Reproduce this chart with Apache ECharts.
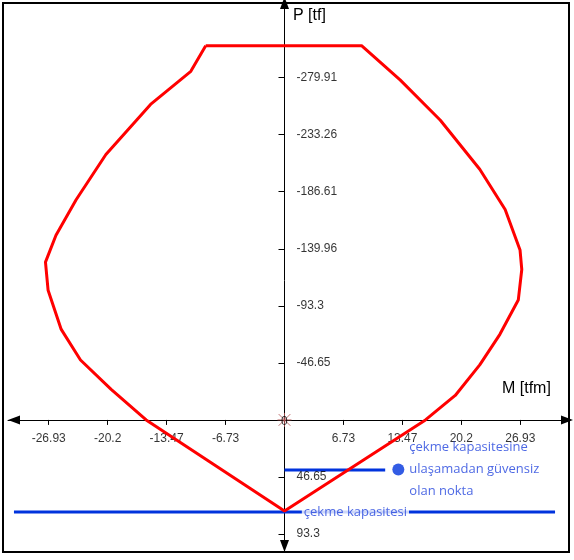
<!DOCTYPE html>
<html>
<head>
<meta charset="utf-8">
<script src="https://cdn.jsdelivr.net/npm/echarts@6/dist/echarts.min.js"></script>
<style>html,body{margin:0;padding:0;background:#fff}#c{width:574px;height:560px}</style>
</head>
<body>
<div id="c"></div>
<script>
// interaction curve (M [tfm], P [tf])
var curveM = [-9.0, -10.7, -15.3, -20.4, -23.8, -26.1, -27.3, -27.0, -25.5, -23.3, -19.8, -15.8, 0,
              16.1, 19.5, 22.3, 24.6, 26.7, 27.1, 26.9, 25.2, 22.3, 17.8, 13.2, 8.8, -9.0];
var curveP = [-306, -285, -258, -217, -180, -151, -129, -106, -74, -49, -25, 0, 74.5,
              0, -20, -45, -70, -98, -123, -139, -172, -205, -245, -278, -306, -306];
var xTicks = [-26.93, -20.2, -13.47, -6.73, 6.73, 13.47, 20.2, 26.93];
var yTicks = [-279.91, -233.26, -186.61, -139.96, -93.3, -46.65, 46.65, 93.3];
var tensionP = 75.3;
var pointM = 13.0, pointP = 40.5;
var shortLine = [[0, 41], [11.5, 41]];

var curve = curveM.map(function (m, i) { return [m, curveP[i]]; });
var chart = echarts.init(document.getElementById('c'));
var tickFont = {fontFamily: 'Liberation Sans', fontSize: 12, color: '#000'};
chart.setOption({
  animation: false,
  grid: {left: 8, right: 13, top: 9, bottom: 8, outerBoundsMode: 'none', containLabel: false},
  xAxis: {
    type: 'value', min: -31.58, max: 31.58,
    splitLine: {show: false},
    axisLine: {onZero: true, lineStyle: {color: '#000'}, symbol: ['triangle', 'triangle'], symbolSize: [9, 12], symbolOffset: [6, 6]},
    axisTick: {customValues: xTicks, length: 5, lineStyle: {color: '#000'}},
    axisLabel: {show: false}
  },
  yAxis: {
    type: 'value', min: -336, max: 108, inverse: true,
    splitLine: {show: false},
    axisLine: {onZero: true, lineStyle: {color: '#000'}, symbol: ['triangle', 'triangle'], symbolSize: [9, 12], symbolOffset: [6, 6]},
    axisTick: {customValues: yTicks, length: 6, lineStyle: {color: '#000'}},
    axisLabel: {show: false}
  },
  series: [
    {type: 'line', data: curve, symbol: 'none', lineStyle: {color: '#f00', width: 3}, z: 3},
    {type: 'line', data: [[-30.9, tensionP], [30.9, tensionP]], symbol: 'none', lineStyle: {color: '#0033dd', width: 3}, z: 2},
    {type: 'line', data: shortLine, symbol: 'none', lineStyle: {color: '#0033dd', width: 3}, z: 2},
    // tick labels placed at the axis crossing
    {type: 'scatter', data: xTicks.map(function (v) { return [v, 0]; }), symbolSize: 0,
     label: Object.assign({show: true, position: 'bottom', distance: 13, formatter: function (p) { return String(p.value[0]); }}, tickFont)},
    {type: 'scatter', data: yTicks.map(function (v) { return [0, v]; }), symbolSize: 0,
     label: Object.assign({show: true, position: 'right', distance: 12, formatter: function (p) { return String(p.value[1]); }}, tickFont)},
    {type: 'scatter', data: [[pointM, pointP]], symbolSize: 12, itemStyle: {color: '#0033dd'},
     label: {show: true, position: 'right', distance: 5, formatter: 'çekme kapasitesine\nulaşamadan güvensiz\nolan nokta',
             color: '#2244dd', fontFamily: 'Open Sans', fontSize: 13, lineHeight: 22}, z: 4},
    {type: 'scatter', data: [[8.1, tensionP]], symbolSize: 0,
     label: {show: true, position: 'inside', formatter: 'çekme kapasitesi', color: '#2244dd', fontFamily: 'Open Sans', fontSize: 13,
             backgroundColor: '#fff', padding: [0, 2]}, z: 5},
    {type: 'scatter', data: [[0, 0]], symbol: 'path://M-1,-1L1,1M1,-1L-1,1M0,-1.2L0,1.2M-1.2,0L1.2,0', symbolSize: 14,
     itemStyle: {color: 'none', borderColor: '#b05050', borderWidth: 1},
     label: Object.assign({show: true, position: [6, 5], formatter: '0'}, tickFont), z: 6}
  ],
  graphic: [
    {type: 'rect', shape: {x: 3, y: 3, width: 566, height: 549}, style: {fill: 'none', stroke: '#000', lineWidth: 2}, silent: true},
    {type: 'text', left: 502, top: 381, style: {text: 'M [tfm]', fontFamily: 'Liberation Sans', fontSize: 16, fill: '#000'}},
    {type: 'text', left: 293, top: 8, style: {text: 'P [tf]', fontFamily: 'Liberation Sans', fontSize: 16, fill: '#000'}}
  ]
});
</script>
</body>
</html>
